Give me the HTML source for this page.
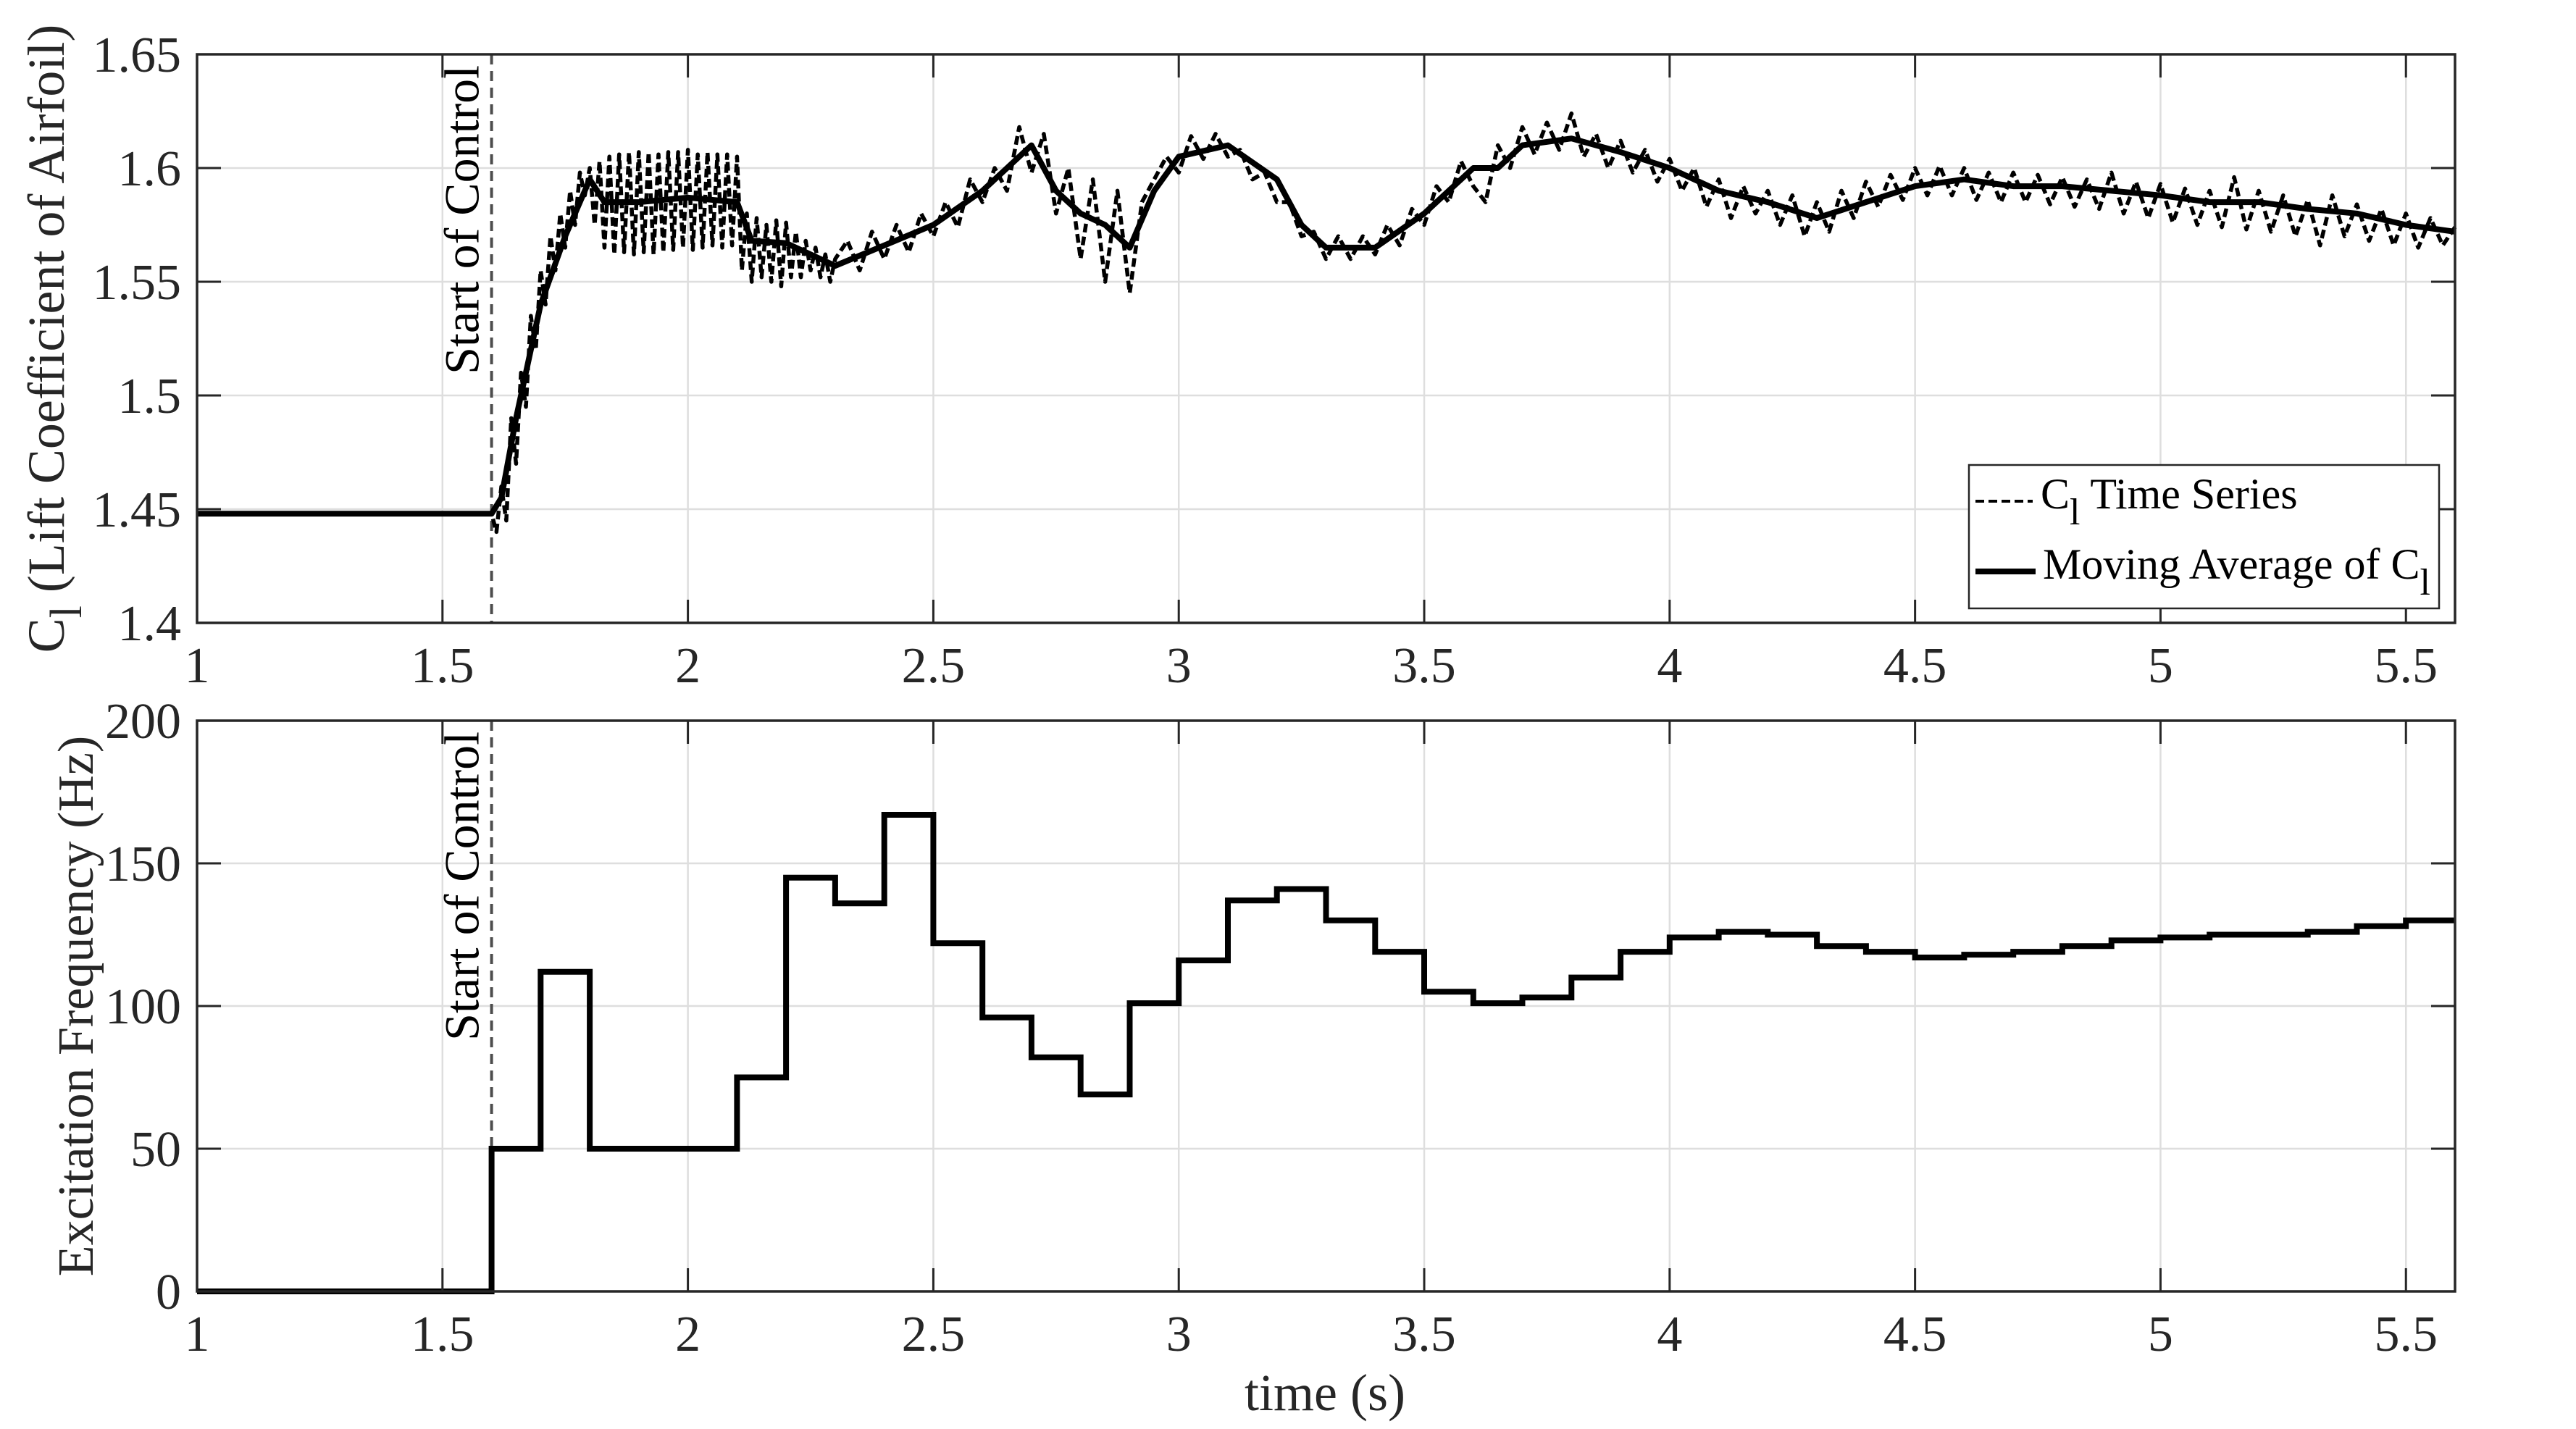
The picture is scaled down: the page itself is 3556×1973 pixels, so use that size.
<!DOCTYPE html>
<html><head><meta charset="utf-8"><style>
html,body{margin:0;padding:0;background:#fff;}
svg{display:block;font-family:"Liberation Serif",serif;}
</style></head><body>
<svg id="fig" width="3556" height="1973" viewBox="0 0 3556 1973" xmlns="http://www.w3.org/2000/svg">
<rect width="3556" height="1973" fill="#fff"/>
<g id="topPanel"></g>
<g id="botPanel"></g>
</svg>
<script>
// ---- Data ----
const xTicks = [1, 1.5, 2, 2.5, 3, 3.5, 4, 4.5, 5, 5.5];
const xTickLabels = ["1","1.5","2","2.5","3","3.5","4","4.5","5","5.5"];
const clTicks = [1.4, 1.45, 1.5, 1.55, 1.6, 1.65];
const clTickLabels = ["1.4","1.45","1.5","1.55","1.6","1.65"];
const fTicks = [0, 50, 100, 150, 200];
const fTickLabels = ["0","50","100","150","200"];
const controlStart = 1.6;

// moving average of Cl
const maTime = [1.0,1.6,1.62,1.65,1.7,1.75,1.8,1.83,1.9,2.0,2.1,2.13,2.2,2.3,2.4,2.5,2.6,2.65,2.7,2.75,2.8,2.85,2.9,2.95,3.0,3.1,3.2,3.25,3.3,3.4,3.5,3.6,3.65,3.7,3.8,3.9,4.0,4.1,4.2,4.3,4.4,4.5,4.6,4.7,4.8,4.9,5.0,5.1,5.2,5.3,5.4,5.5,5.6];
const maVal = [1.448,1.448,1.455,1.49,1.54,1.57,1.595,1.585,1.585,1.587,1.585,1.568,1.567,1.557,1.566,1.575,1.59,1.6,1.61,1.59,1.58,1.575,1.565,1.59,1.605,1.61,1.595,1.575,1.565,1.565,1.58,1.6,1.6,1.61,1.613,1.607,1.6,1.59,1.585,1.578,1.585,1.592,1.595,1.592,1.592,1.59,1.588,1.585,1.585,1.582,1.58,1.575,1.572];

// Cl time series
const tsAStart = 1.60, tsAStep = 0.01;
const tsA = [1.448,1.440,1.460,1.445,1.490,1.470,1.510,1.495,1.535,1.520,1.555,1.540,1.570,1.555,1.580,1.565,1.590,1.575,1.598,1.588,1.600,1.575,1.603,1.565,1.605,1.562,1.606,1.563,1.607,1.562,1.607,1.563,1.607,1.562,1.606,1.563,1.607,1.564,1.607,1.565,1.608,1.564,1.606,1.565,1.607,1.566,1.606,1.565,1.606,1.566,1.605,1.555,1.580,1.550,1.578,1.552,1.575,1.550,1.577,1.548,1.576,1.552,1.572,1.552,1.568,1.555,1.565,1.552,1.562,1.550,1.560];
const tsBStart = 2.325, tsBStep = 0.025;
const tsB = [1.568,1.555,1.572,1.560,1.575,1.563,1.580,1.570,1.585,1.574,1.595,1.585,1.600,1.590,1.618,1.598,1.615,1.580,1.600,1.560,1.595,1.550,1.590,1.545,1.585,1.595,1.605,1.598,1.614,1.604,1.615,1.605,1.608,1.595,1.598,1.585,1.585,1.570,1.572,1.560,1.570,1.560,1.570,1.562,1.575,1.566,1.582,1.575,1.592,1.585,1.603,1.592,1.585,1.610,1.600,1.618,1.606,1.620,1.608,1.624,1.605,1.615,1.600,1.612,1.598,1.608,1.594,1.604,1.590,1.600,1.583,1.595,1.578,1.592,1.580,1.590,1.575,1.588,1.570,1.585,1.572,1.590,1.578,1.594,1.583,1.597,1.586,1.600,1.588,1.601,1.588,1.600,1.586,1.598,1.585,1.598,1.585,1.597,1.584,1.596,1.583,1.595,1.582,1.598,1.580,1.594,1.578,1.593,1.576,1.591,1.575,1.590,1.574,1.596,1.573,1.590,1.572,1.588,1.570,1.586,1.566,1.588,1.570,1.584,1.568,1.582,1.566,1.580,1.565,1.578,1.566,1.574];

// excitation frequency steps (0.1 s each, starting 1.6)
const freqStart = 1.6, freqStep = 0.1;
const freqVal = [50,112,50,50,50,75,145,136,167,122,96,82,69,101,116,137,141,130,119,105,101,103,110,119,124,126,125,121,119,117,118,119,121,123,124,125,125,126,128,130];

// ---- Layout ----
const L = 272, R = 3389, xMin = 1, xMax = 5.6;
const T1 = 75, B1 = 860, yMin1 = 1.4, yMax1 = 1.65;
const T2 = 995, B2 = 1783, yMin2 = 0, yMax2 = 200;
const NS = "http://www.w3.org/2000/svg";
const sx = v => L + (v - xMin) / (xMax - xMin) * (R - L);
const sy1 = v => B1 - (v - yMin1) / (yMax1 - yMin1) * (B1 - T1);
const sy2 = v => B2 - (v - yMin2) / (yMax2 - yMin2) * (B2 - T2);

function mk(parent, tag, attrs) {
  const e = document.createElementNS(NS, tag);
  for (const k in attrs) e.setAttribute(k, attrs[k]);
  parent.appendChild(e);
  return e;
}

function axes(g, T, B, yT, sy) {
  xTicks.forEach((t) => {
    const gl = mk(g, 'line', {x1: sx(t), x2: sx(t), y1: T, y2: B, stroke: '#dedede', 'stroke-width': 2.5});
    
    
  });
  yT.forEach((t) => {
    const gl = mk(g, 'line', {x1: L, x2: R, y1: sy(t), y2: sy(t), stroke: '#dedede', 'stroke-width': 2.5});
    
    
  });
}
function frame(g, T, B, yT, yL, sy, name) {
  const fr = mk(g, 'rect', {x: L, y: T, width: R - L, height: B - T, fill: 'none', stroke: '#262626', 'stroke-width': 3.5});
  
  
  xTicks.forEach((t, i) => {
    mk(g, 'line', {x1: sx(t), x2: sx(t), y1: B, y2: B - 32, stroke: '#262626', 'stroke-width': 3});
    mk(g, 'line', {x1: sx(t), x2: sx(t), y1: T, y2: T + 32, stroke: '#262626', 'stroke-width': 3});
    const tx = mk(g, 'text', {x: sx(t), y: B + 82, 'text-anchor': 'middle', 'font-size': 70, fill: '#262626'});
    tx.textContent = xTickLabels[i];
    
    
  });
  yT.forEach((t, i) => {
    mk(g, 'line', {x1: L, x2: L + 33, y1: sy(t), y2: sy(t), stroke: '#262626', 'stroke-width': 3});
    mk(g, 'line', {x1: R, x2: R - 33, y1: sy(t), y2: sy(t), stroke: '#262626', 'stroke-width': 3});
    const tx = mk(g, 'text', {x: 250, y: sy(t) + 24, 'text-anchor': 'end', 'font-size': 70, fill: '#262626'});
    tx.textContent = yL[i];
    
    
  });
}
function controlLine(g, T, B) {
  const ln = mk(g, 'line', {x1: sx(controlStart), x2: sx(controlStart), y1: T, y2: B, stroke: '#4d4d4d', 'stroke-width': 4, 'stroke-dasharray': '14 9'});
  
  
  const tx = mk(g, 'text', {x: 0, y: 0, 'text-anchor': 'end', 'font-size': 68, fill: '#000',
    transform: 'translate(' + (sx(controlStart) - 18) + ',' + (T + 15) + ') rotate(-90)'});
  tx.textContent = 'Start of Control';
  
  
}

// ---- Top panel ----
const topG = document.getElementById('topPanel');
axes(topG, T1, B1, clTicks, sy1);
controlLine(topG, T1, B1);
let d = 'M' + sx(xMin) + ',' + sy1(1.448) + ' L' + sx(tsAStart) + ',' + sy1(1.448);
tsA.forEach((v, i) => { d += ' L' + sx(tsAStart + i * tsAStep).toFixed(1) + ',' + sy1(v).toFixed(1); });
tsB.forEach((v, i) => { d += ' L' + sx(tsBStart + i * tsBStep).toFixed(1) + ',' + sy1(v).toFixed(1); });
const tsPath = mk(topG, 'path', {d: d, fill: 'none', stroke: '#000', 'stroke-width': 5.5, 'stroke-dasharray': '12 6', 'stroke-linejoin': 'round'});


let d2 = '';
maTime.forEach((t, i) => { d2 += (i ? ' L' : 'M') + sx(t).toFixed(1) + ',' + sy1(maVal[i]).toFixed(1); });
const maPath = mk(topG, 'path', {d: d2, fill: 'none', stroke: '#000', 'stroke-width': 8, 'stroke-linejoin': 'round'});


frame(topG, T1, B1, clTicks, clTickLabels, sy1, 'top');

// legend
const lg = mk(topG, 'g', {});


mk(lg, 'rect', {x: 2718, y: 642, width: 649, height: 198, fill: '#fff', stroke: '#262626', 'stroke-width': 2.5});
const le1 = mk(lg, 'line', {x1: 2727, x2: 2806, y1: 692, y2: 692, stroke: '#000', 'stroke-width': 4, 'stroke-dasharray': '12 6'});


const lt1 = mk(lg, 'text', {x: 2817, y: 702, 'font-size': 60, fill: '#000'});
lt1.innerHTML = 'C<tspan dy="22" font-size="52">l</tspan><tspan dy="-22"> Time Series</tspan>';


const le2 = mk(lg, 'line', {x1: 2727, x2: 2810, y1: 789, y2: 789, stroke: '#000', 'stroke-width': 8});


const lt2 = mk(lg, 'text', {x: 2820, y: 799, 'font-size': 60, fill: '#000'});
lt2.innerHTML = 'Moving Average of C<tspan dy="22" font-size="52">l</tspan>';



const yl1 = mk(topG, 'text', {x: 0, y: 0, 'text-anchor': 'middle', 'font-size': 72, fill: '#262626', transform: 'translate(88,' + ((T1 + B1) / 2) + ') rotate(-90)'});
yl1.innerHTML = 'C<tspan dy="24" font-size="62">l</tspan><tspan dy="-24"> (Lift Coefficient of Airfoil)</tspan>';



// ---- Bottom panel ----
const botG = document.getElementById('botPanel');
axes(botG, T2, B2, fTicks, sy2);
controlLine(botG, T2, B2);
let d3 = 'M' + sx(xMin) + ',' + sy2(0) + ' L' + sx(freqStart) + ',' + sy2(0);
freqVal.forEach((v, i) => {
  const t0 = freqStart + i * freqStep, t1 = Math.min(xMax, t0 + freqStep);
  d3 += ' L' + sx(t0).toFixed(1) + ',' + sy2(v).toFixed(1) + ' L' + sx(t1).toFixed(1) + ',' + sy2(v).toFixed(1);
});
const fPath = mk(botG, 'path', {d: d3, fill: 'none', stroke: '#000', 'stroke-width': 8, 'stroke-linejoin': 'miter'});


frame(botG, T2, B2, fTicks, fTickLabels, sy2, 'bottom');
const yl2 = mk(botG, 'text', {x: 0, y: 0, 'text-anchor': 'middle', 'font-size': 70, fill: '#262626', transform: 'translate(128,' + ((T2 + B2) / 2) + ') rotate(-90)'});
yl2.textContent = 'Excitation Frequency (Hz)';


const xl = mk(botG, 'text', {x: 1829, y: 1947, 'text-anchor': 'middle', 'font-size': 72, fill: '#262626'});
xl.textContent = 'time (s)';


</script>
</body></html>
